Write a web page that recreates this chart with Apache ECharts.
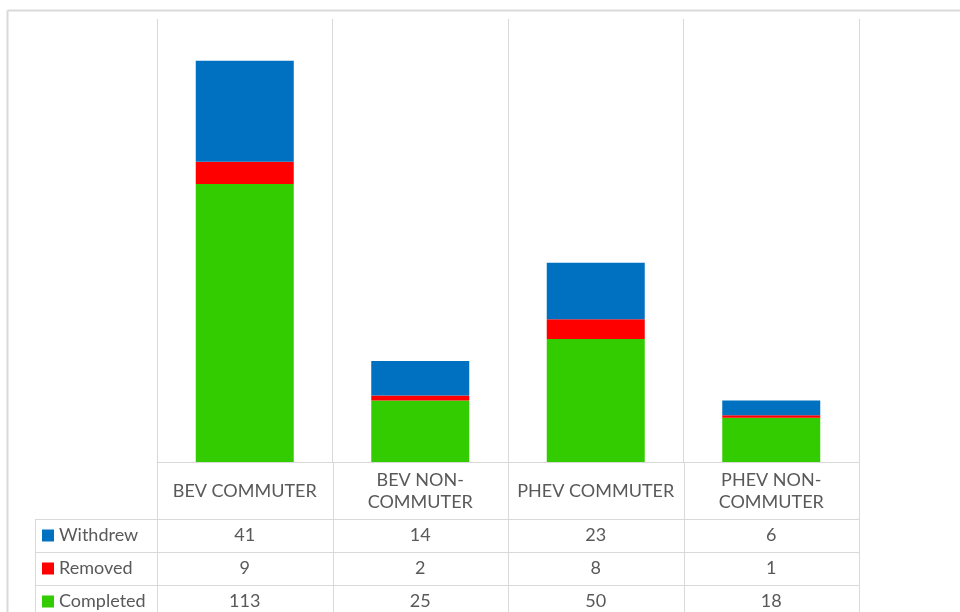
<!DOCTYPE html>
<html>
<head>
<meta charset="utf-8">
<script src="https://cdn.jsdelivr.net/npm/echarts@6/dist/echarts.min.js"></script>
<style>
  html, body { margin: 0; padding: 0; background: #fff; }
  #chart { width: 960px; height: 612px; }
</style>
</head>
<body>
<div id="chart"></div>
<script>
const categories = ['BEV COMMUTER', 'BEV NON-\nCOMMUTER', 'PHEV COMMUTER', 'PHEV NON-\nCOMMUTER'];
const withdrew = [41, 14, 23, 6];
const removed = [9, 2, 8, 1];
const completed = [113, 25, 50, 18];

// table rows, top to bottom
const rows = [
  { name: 'Withdrew', color: '#0070C0', values: withdrew },
  { name: 'Removed', color: '#FF0000', values: removed },
  { name: 'Completed', color: '#33CC00', values: completed }
];

const FONT = 'Lato, "Open Sans", sans-serif';
const TEXT = '#595959';
const LINE = '#d9d9d9';

// layout of plot + table
const plotLeft = 157, plotRight = 859, plotTop = 19, plotBottom = 462;
const legendLeft = 35;
const rowTops = [519, 552, 585];
const rowH = 33;
const colW = (plotRight - plotLeft) / categories.length;

const chart = echarts.init(document.getElementById('chart'));

const graphic = [];
// outer frame
graphic.push({ type: 'line', shape: { x1: 7.5, y1: 10.5, x2: 960, y2: 10.5 }, style: { stroke: LINE, lineWidth: 2 }, silent: true });
graphic.push({ type: 'line', shape: { x1: 7.5, y1: 10.5, x2: 7.5, y2: 612 }, style: { stroke: LINE, lineWidth: 2 }, silent: true });

// vertical column lines through the table
for (let i = 0; i <= categories.length; i++) {
  const x = Math.round(plotLeft + i * colW) + 0.5;
  graphic.push({ type: 'line', shape: { x1: x, y1: plotBottom, x2: x, y2: 612 }, style: { stroke: LINE, lineWidth: 1 }, silent: true });
}
graphic.push({ type: 'line', shape: { x1: legendLeft + 0.5, y1: rowTops[0], x2: legendLeft + 0.5, y2: 612 }, style: { stroke: LINE, lineWidth: 1 }, silent: true });
// horizontal row lines
rowTops.forEach(y => {
  graphic.push({ type: 'line', shape: { x1: legendLeft, y1: y + 0.5, x2: plotRight, y2: y + 0.5 }, style: { stroke: LINE, lineWidth: 1 }, silent: true });
});

// rows: legend key + values
rows.forEach((r, ri) => {
  const cy = rowTops[ri] + rowH / 2;
  graphic.push({ type: 'rect', shape: { x: 42, y: cy - 6, width: 12, height: 12 }, style: { fill: r.color }, silent: true });
  graphic.push({ type: 'text', x: 59, y: cy, style: { text: r.name, font: '18px ' + FONT, fill: TEXT, verticalAlign: 'middle', align: 'left' }, silent: true });
  r.values.forEach((v, ci) => {
    graphic.push({
      type: 'text', x: plotLeft + (ci + 0.5) * colW, y: cy,
      style: { text: String(v), font: '18px ' + FONT, fill: TEXT, align: 'center', verticalAlign: 'middle' },
      silent: true
    });
  });
});

chart.setOption({
  animation: false,
  grid: { left: plotLeft, right: 960 - plotRight, top: plotTop, bottom: 612 - plotBottom },
  xAxis: {
    type: 'category',
    data: categories,
    axisTick: { show: false },
    axisLine: { lineStyle: { color: LINE, width: 1 } },
    splitLine: { show: true, lineStyle: { color: LINE, width: 1 } },
    axisLabel: {
      interval: 0,
      margin: 29,
      verticalAlign: 'middle',
      color: TEXT,
      fontFamily: FONT,
      fontSize: 18,
      lineHeight: 22,
      align: 'center'
    }
  },
  yAxis: {
    type: 'value',
    min: 0,
    max: 180,
    show: false,
    splitLine: { show: false }
  },
  series: [
    { name: 'Completed', type: 'bar', stack: 'total', data: completed, barWidth: 98, itemStyle: { color: '#33CC00' } },
    { name: 'Removed', type: 'bar', stack: 'total', data: removed, barWidth: 98, itemStyle: { color: '#FF0000' } },
    { name: 'Withdrew', type: 'bar', stack: 'total', data: withdrew, barWidth: 98, itemStyle: { color: '#0070C0' } }
  ],
  graphic: graphic
});
</script>
</body>
</html>
